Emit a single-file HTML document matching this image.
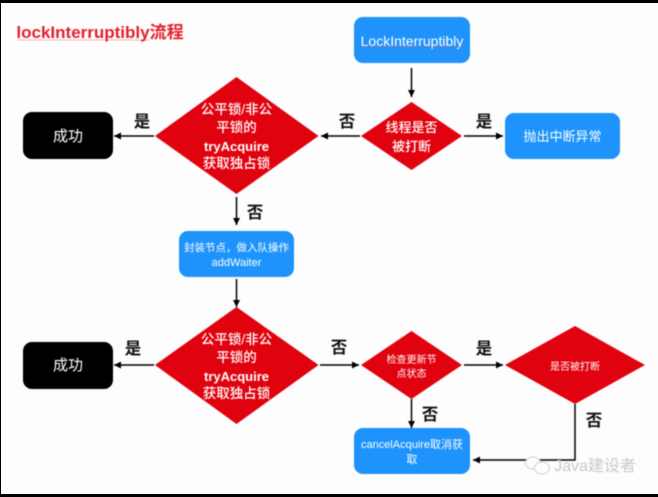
<!DOCTYPE html>
<html><head><meta charset="utf-8">
<style>
html,body{margin:0;padding:0;background:#000;width:658px;height:497px;overflow:hidden}
svg{display:block}
text{font-family:"Liberation Sans","Noto Sans CJK SC",sans-serif;text-anchor:middle}
.w{fill:#fff}
.m{font-weight:500}
.l{fill:#111;font-size:16.5px;font-weight:700}
</style></head><body>
<svg width="658" height="497" viewBox="0 0 658 497" xmlns="http://www.w3.org/2000/svg">
<defs>
<marker id="a" markerWidth="8" markerHeight="8" refX="7" refY="3.5" orient="auto" markerUnits="userSpaceOnUse"><path d="M0 0L7 3.5L0 7z" fill="#000"/></marker>
</defs>
<rect width="658" height="497" fill="#000"/>
<rect x="1" y="3" width="657" height="491" fill="#fdfdfd"/>
<g style="filter:blur(.45px)">
<text x="100" y="38" style="font-size:17px;font-weight:700" fill="#e2212d">lockInterruptibly流程</text>
<line x1="18" y1="40" x2="149" y2="40" stroke="#e2212d" stroke-width=".8" stroke-dasharray="1.5 1" opacity=".7"/>

<rect x="354" y="17" width="116" height="46" rx="9" fill="#1e93fb"/>
<text class="w" x="412" y="46" font-size="14">LockInterruptibly</text>
<line x1="360" y1="47.5" x2="464" y2="47.5" stroke="#d8506a" stroke-width=".7" opacity=".7"/>

<polygon points="155,136 236.5,77 318.5,136 236.5,194" fill="#e0020e"/>
<g font-size="13.5" class="m">
<text x="236.5" y="114" fill="#fff">公平锁/非公</text>
<text x="236.5" y="132" fill="#fff">平锁的</text>
<text x="236.5" y="151" fill="#fff" font-weight="700" font-size="13">tryAcquire</text>
<text x="236.5" y="168" fill="#fff">获取独占锁</text>
</g>

<polygon points="361,136 411.5,102 462,136 411.5,170" fill="#e0020e"/>
<text class="w m" x="411.5" y="132" font-size="13">线程是否</text>
<text class="w m" x="411.5" y="151" font-size="13">被打断</text>

<rect x="23" y="112" width="90" height="47" rx="9" fill="#000"/>
<text class="w" x="68" y="141" font-size="15">成功</text>

<rect x="505" y="113" width="115" height="46" rx="9" fill="#1e93fb"/>
<text class="w" x="562.5" y="141" font-size="13">抛出中断异常</text>

<rect x="179" y="231" width="115" height="46" rx="9" fill="#1e93fb"/>
<text class="w" x="236.5" y="251" font-size="10.5">封装节点，做入队操作</text>
<text class="w" x="236.5" y="266" font-size="11">addWaiter</text>

<polygon points="155,365 236.5,307 318.5,365 236.5,424" fill="#e0020e"/>
<g font-size="13.5" class="m">
<text x="236.5" y="344" fill="#fff">公平锁/非公</text>
<text x="236.5" y="362" fill="#fff">平锁的</text>
<text x="236.5" y="381" fill="#fff" font-weight="700" font-size="13">tryAcquire</text>
<text x="236.5" y="398" fill="#fff">获取独占锁</text>
</g>

<rect x="23" y="342" width="90" height="47" rx="9" fill="#000"/>
<text class="w" x="68" y="370" font-size="15">成功</text>

<polygon points="361,365 411.5,331 462,365 411.5,399" fill="#e0020e"/>
<text class="w" x="411.5" y="363" font-size="10">检查更新节</text>
<text class="w" x="411.5" y="377" font-size="10">点状态</text>

<polygon points="505,365 575,326 645,365 575,404" fill="#e0020e"/>
<text class="w" x="575" y="370" font-size="10">是否被打断</text>

<rect x="354" y="428" width="116" height="46" rx="9" fill="#1e93fb"/>
<text class="w" x="412" y="448" font-size="11">cancelAcquire取消获</text>
<text class="w" x="412" y="463" font-size="11">取</text>

<g stroke="#000" stroke-width="1.5" fill="none">
<line x1="411.5" y1="68" x2="411.5" y2="97" marker-end="url(#a)"/>
<line x1="360" y1="136" x2="321" y2="136" marker-end="url(#a)"/>
<line x1="464" y1="136" x2="503" y2="136" marker-end="url(#a)"/>
<line x1="154" y1="136" x2="114" y2="136" marker-end="url(#a)"/>
<line x1="236.5" y1="197" x2="236.5" y2="225" marker-end="url(#a)"/>
<line x1="236.5" y1="279" x2="236.5" y2="307" marker-end="url(#a)"/>
<line x1="154" y1="365" x2="114" y2="365" marker-end="url(#a)"/>
<line x1="320" y1="365" x2="359" y2="365" marker-end="url(#a)"/>
<line x1="464" y1="365" x2="503" y2="365" marker-end="url(#a)"/>
<line x1="411.5" y1="399" x2="411.5" y2="428" marker-end="url(#a)"/>
<polyline points="575,404 575,460 473,460" marker-end="url(#a)"/>
</g>

<text class="l" x="142" y="127">是</text>
<text class="l" x="255" y="218">否</text>
<text class="l" x="347" y="127">否</text>
<text class="l" x="484" y="127">是</text>
<text class="l" x="133" y="354">是</text>
<text class="l" x="339" y="353">否</text>
<text class="l" x="484" y="354">是</text>
<text class="l" x="430" y="420">否</text>
<text class="l" x="594" y="426">否</text>

<g fill="#fdfdfd" stroke="#cfcfcf" stroke-width="1">
<ellipse cx="533" cy="463" rx="7.5" ry="6"/>
<ellipse cx="542" cy="468" rx="7.5" ry="6"/>
</g>
<text x="595" y="471" font-size="16" fill="#c9c9c9">Java建设者</text>
</g>
</svg>
</body></html>
